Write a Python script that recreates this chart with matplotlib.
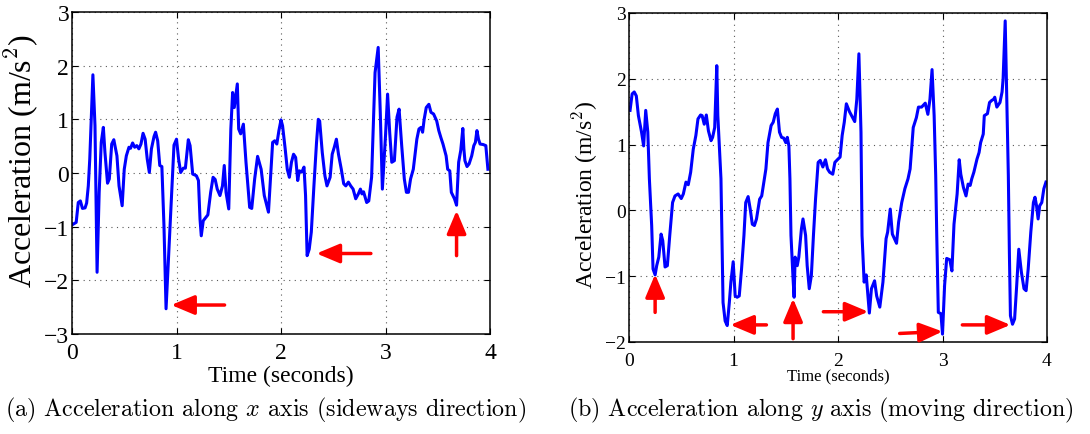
import matplotlib
matplotlib.use("Agg")
import matplotlib.pyplot as plt

# sideways (x axis) acceleration: (time s, value m/s^2)
samples_x = [
    (0.006, -0.96), (0.04, -0.92), (0.06, -0.55), (0.08, -0.52), (0.10, -0.66), (0.125, -0.65),
    (0.14, -0.56), (0.156, -0.24), (0.17, 0.26), (0.20, 1.83), (0.22, 0.88), (0.24, -1.85),
    (0.26, -0.36), (0.28, 0.57), (0.30, 0.85), (0.315, 0.39), (0.34, -0.19), (0.357, -0.11),
    (0.38, 0.54), (0.40, 0.62), (0.43, 0.32), (0.45, -0.24), (0.48, -0.61), (0.50, 0.07),
    (0.52, 0.32), (0.545, 0.48), (0.56, 0.46), (0.58, 0.56), (0.60, 0.48), (0.62, 0.51),
    (0.64, 0.45), (0.66, 0.54), (0.68, 0.74), (0.70, 0.63), (0.72, 0.26), (0.74, 0.01),
    (0.76, 0.45), (0.785, 0.68), (0.80, 0.76), (0.82, 0.60), (0.84, 0.14), (0.86, 0.12),
    (0.88, -0.98), (0.90, -2.53), (0.92, -1.73), (0.947, -0.67), (0.976, 0.52), (1.00, 0.63),
    (1.02, 0.26), (1.04, 0.01), (1.065, 0.09), (1.085, 0.09), (1.113, 0.62), (1.13, 0.51),
    (1.155, -0.02), (1.19, -0.05), (1.21, -0.14), (1.225, -0.86), (1.237, -1.17), (1.256, -0.89),
    (1.28, -0.83), (1.30, -0.78), (1.327, -0.36), (1.35, -0.08), (1.37, -0.12), (1.39, -0.30),
    (1.416, -0.42), (1.44, -0.24), (1.457, 0.14), (1.474, -0.36), (1.50, -0.67), (1.52, 0.82),
    (1.537, 1.50), (1.553, 1.22), (1.57, 1.47), (1.582, 1.66), (1.595, 0.82), (1.614, 0.73),
    (1.64, 0.91), (1.665, 0.20), (1.70, -0.64), (1.72, -0.66), (1.748, -0.11), (1.776, 0.31),
    (1.81, 0.07), (1.84, -0.42), (1.88, -0.73), (1.92, 0.57), (1.94, 0.60), (1.96, 0.54),
    (1.98, 0.79), (2.00, 0.99), (2.015, 0.88), (2.04, 0.45), (2.06, 0.07), (2.08, -0.08),
    (2.10, 0.20), (2.12, 0.35), (2.14, 0.29), (2.16, -0.14), (2.175, 0.04), (2.20, 0.02),
    (2.22, 0.11), (2.235, -0.42), (2.25, -1.54), (2.27, -1.42), (2.29, -1.10), (2.315, -0.24),
    (2.34, 0.57), (2.357, 1.00), (2.37, 0.97), (2.395, 0.38), (2.42, -0.05), (2.44, -0.24),
    (2.47, -0.08), (2.49, 0.35), (2.51, 0.48), (2.53, 0.63), (2.55, 0.35), (2.577, 0.07),
    (2.60, -0.20), (2.62, -0.24), (2.645, -0.17), (2.667, -0.24), (2.69, -0.30), (2.715, -0.48),
    (2.74, -0.39), (2.76, -0.30), (2.775, -0.39), (2.79, -0.35), (2.82, -0.55), (2.84, -0.52),
    (2.867, -0.08), (2.90, 1.87), (2.93, 2.34), (2.95, 1.13), (2.97, -0.30), (3.00, 0.69),
    (3.02, 1.47), (3.04, 0.76), (3.06, 0.20), (3.085, 0.23), (3.11, 1.04), (3.13, 1.19),
    (3.155, 0.51), (3.18, -0.11), (3.20, -0.36), (3.22, -0.36), (3.24, -0.11), (3.266, 0.07),
    (3.30, 0.63), (3.32, 0.82), (3.34, 0.85), (3.355, 0.76), (3.37, 1.00), (3.39, 1.22),
    (3.415, 1.28), (3.435, 1.13), (3.46, 1.10), (3.49, 0.97), (3.51, 0.79), (3.53, 0.66),
    (3.55, 0.54), (3.58, 0.32), (3.595, 0.07), (3.615, 0.04), (3.63, -0.36), (3.66, -0.48),
    (3.68, -0.60), (3.70, 0.20), (3.72, 0.42), (3.74, 0.83), (3.75, 0.45), (3.76, 0.23),
    (3.78, 0.12), (3.80, 0.17), (3.825, 0.32), (3.845, 0.51), (3.86, 0.57), (3.875, 0.79),
    (3.89, 0.63), (3.905, 0.54), (3.935, 0.53), (3.96, 0.51), (3.98, 0.07),
]

# moving direction (y axis) acceleration: (time s, value m/s^2)
samples_y = [
    (0.01, 1.52), (0.03, 1.77), (0.05, 1.80), (0.07, 1.74), (0.09, 1.44), (0.12, 1.19),
    (0.14, 0.98), (0.16, 1.52), (0.18, 1.19), (0.195, 0.48), (0.217, -0.23), (0.23, -0.89),
    (0.25, -0.98), (0.265, -0.84), (0.285, -0.71), (0.307, -0.36), (0.323, -0.46), (0.345, -0.86),
    (0.367, -0.84), (0.39, -0.38), (0.417, 0.12), (0.44, 0.22), (0.47, 0.25), (0.50, 0.18),
    (0.52, 0.25), (0.545, 0.43), (0.567, 0.39), (0.59, 0.58), (0.615, 0.93), (0.64, 1.14),
    (0.66, 1.39), (0.685, 1.45), (0.70, 1.44), (0.72, 1.31), (0.74, 1.45), (0.76, 1.21),
    (0.785, 1.06), (0.80, 1.11), (0.82, 1.26), (0.84, 2.20), (0.85, 1.44), (0.88, 0.48),
    (0.90, -1.40), (0.92, -1.68), (0.94, -1.75), (0.96, -1.40), (0.975, -1.09), (0.997, -0.78),
    (1.016, -1.30), (1.035, -1.32), (1.055, -1.30), (1.077, -0.89), (1.10, -0.38), (1.117, 0.12),
    (1.14, 0.21), (1.16, 0.02), (1.18, -0.21), (1.20, -0.23), (1.22, -0.13), (1.25, 0.17),
    (1.27, 0.22), (1.29, 0.43), (1.31, 0.63), (1.33, 1.03), (1.36, 1.29), (1.38, 1.34),
    (1.40, 1.47), (1.42, 1.54), (1.44, 1.19), (1.46, 1.11), (1.48, 1.10), (1.50, 1.03),
    (1.515, 1.11), (1.53, 0.98), (1.54, 0.48), (1.55, -0.38), (1.57, -1.04), (1.58, -1.32),
    (1.59, -0.71), (1.61, -0.84), (1.625, -0.71), (1.65, -0.28), (1.665, -0.13), (1.69, -0.38),
    (1.705, -0.84), (1.725, -1.19), (1.745, -0.99), (1.765, -0.38), (1.785, 0.17), (1.81, 0.73),
    (1.83, 0.76), (1.855, 0.66), (1.88, 0.77), (1.90, 0.63), (1.92, 0.58), (1.95, 0.55),
    (1.97, 0.73), (2.00, 0.78), (2.02, 0.81), (2.04, 1.14), (2.06, 1.34), (2.08, 1.62),
    (2.11, 1.50), (2.14, 1.41), (2.16, 1.35), (2.18, 1.69), (2.20, 2.38), (2.22, 1.19),
    (2.23, -0.38), (2.25, -1.09), (2.27, -0.98), (2.30, -1.56), (2.32, -1.19), (2.35, -1.07),
    (2.37, -1.30), (2.40, -1.47), (2.43, -1.09), (2.46, -0.43), (2.475, -0.33), (2.50, 0.02),
    (2.52, -0.36), (2.56, -0.50), (2.58, -0.18), (2.61, 0.12), (2.64, 0.33), (2.67, 0.48),
    (2.69, 0.63), (2.72, 1.26), (2.75, 1.41), (2.77, 1.57), (2.80, 1.57), (2.835, 1.63),
    (2.86, 1.46), (2.88, 1.69), (2.90, 2.14), (2.92, 1.44), (2.935, 0.53), (2.945, -0.38),
    (2.96, -1.55), (2.985, -1.57), (3.00, -1.88), (3.02, -1.14), (3.04, -0.73), (3.07, -0.75),
    (3.09, -0.92), (3.11, -0.21), (3.14, 0.25), (3.16, 0.77), (3.175, 0.55), (3.20, 0.35),
    (3.225, 0.22), (3.245, 0.40), (3.265, 0.38), (3.28, 0.48), (3.30, 0.58), (3.33, 0.78),
    (3.35, 0.88), (3.365, 1.03), (3.39, 1.16), (3.40, 1.44), (3.43, 1.47), (3.45, 1.64),
    (3.47, 1.67), (3.49, 1.69), (3.50, 1.72), (3.52, 1.57), (3.55, 1.64), (3.57, 1.80),
    (3.58, 2.00), (3.60, 2.88), (3.615, 1.69), (3.63, 0.53), (3.64, -0.64), (3.65, -1.60),
    (3.67, -1.73), (3.69, -1.65), (3.71, -1.14), (3.73, -0.59), (3.755, -0.94), (3.78, -1.19),
    (3.80, -1.22), (3.82, -0.89), (3.845, -0.33), (3.87, 0.12), (3.885, 0.20), (3.90, 0.07),
    (3.915, -0.13), (3.93, 0.07), (3.95, 0.12), (3.97, 0.33), (3.99, 0.43),
]

# red arrows marking the dips: (tail_t, tail_v, tip_t, tip_v)
arrows_x = [(1.46, -2.46, 0.95, -2.46), (2.86, -1.50, 2.34, -1.50), (3.68, -1.54, 3.68, -0.70)]
arrows_y = [(0.25, -1.55, 0.25, -0.97), (1.315, -1.74, 0.97, -1.74), (1.57, -1.95, 1.57, -1.34),
            (1.86, -1.54, 2.29, -1.54), (2.59, -1.87, 3.00, -1.84), (3.19, -1.74, 3.65, -1.74)]

W, H = 1090, 435
plt.rcParams["mathtext.fontset"] = "cm"
fig = plt.figure(figsize=(W / 100, H / 100), dpi=100)
times = ["Liberation Serif", "DejaVu Serif"]


def setup(ax, ylim, yticks, tick_size, xpad):
    ax.set_xlim(0, 4)
    ax.set_ylim(*ylim)
    ax.set_xticks([0, 1, 2, 3, 4])
    ax.set_yticks(yticks)
    ax.grid(True, linestyle=(0, (1, 4)), color="0.35", linewidth=0.8)
    ax.tick_params(direction="in", top=True, right=True, length=4, width=0.8,
                   labelsize=tick_size)
    ax.tick_params(axis="x", pad=xpad)
    ax.tick_params(axis="y", pad=2)
    for lab in ax.get_xticklabels() + ax.get_yticklabels():
        lab.set_family(times)
    for sp in ax.spines.values():
        sp.set_linewidth(1.1)


def draw_arrows(ax, arrows):
    for t0, v0, t1, v1 in arrows:
        ax.annotate("", xy=(t1, v1), xytext=(t0, v0),
                    arrowprops=dict(arrowstyle="-|>,head_length=1.0,head_width=0.42",
                                    color="red", lw=2.5, mutation_scale=14,
                                    shrinkA=0, shrinkB=0))


axL = fig.add_axes([72 / W, 1 - 335 / H, 418 / W, 322 / H])
axL.plot([t for t, _ in samples_x], [v for _, v in samples_x], color="blue", lw=2.2)
setup(axL, (-3, 3), [-3, -2, -1, 0, 1, 2, 3], 17, 6)
draw_arrows(axL, arrows_x)
axL.set_xlabel("Time (seconds)", family=times, fontsize=17, labelpad=1)
axL.set_ylabel("Acceleration (m/s$^2$)", family=times, fontsize=23, labelpad=0)
axL.yaxis.set_label_coords(-31 / 418, 0.54)

axR = fig.add_axes([629 / W, 1 - 343 / H, 418 / W, 329 / H])
axR.plot([t for t, _ in samples_y], [v for _, v in samples_y], color="blue", lw=2.2)
setup(axR, (-2, 3), [-2, -1, 0, 1, 2, 3], 14, 7)
draw_arrows(axR, arrows_y)
axR.set_xlabel("Time (seconds)", family=times, fontsize=12, labelpad=-1)
axR.set_ylabel("Acceleration (m/s$^2$)", family=times, fontsize=17, labelpad=0)
axR.yaxis.set_label_coords(-29 / 418, 0.45)

fig.text(266 / W, 1 - 410 / H, "(a) Acceleration along $x$ axis (sideways direction)",
         family="cmr10", fontsize=17.3, ha="center", va="center")
fig.text(821 / W, 1 - 410 / H, "(b) Acceleration along $y$ axis (moving direction)",
         family="cmr10", fontsize=17.3, ha="center", va="center")

fig.savefig("out.png", dpi=100)
